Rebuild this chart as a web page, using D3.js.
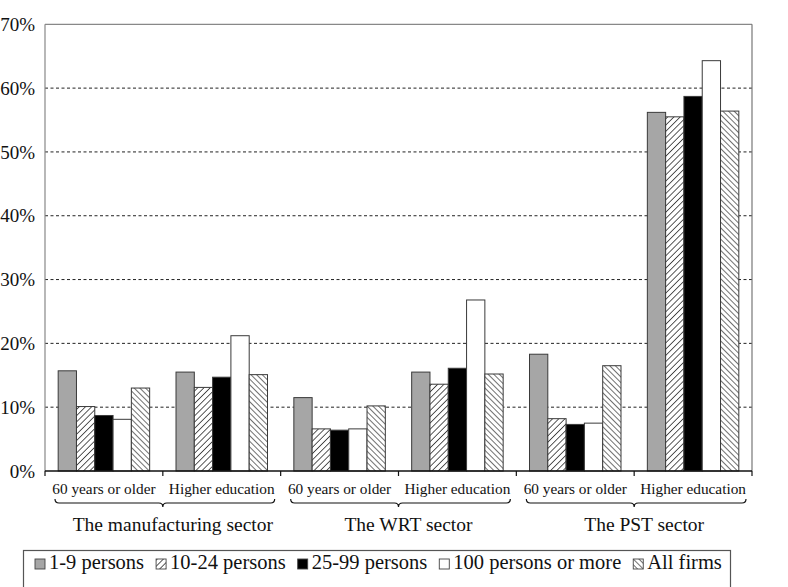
<!DOCTYPE html>
<html>
<head>
<meta charset="utf-8">
<script src="https://cdn.jsdelivr.net/npm/d3@7"></script>
<style>
  html, body { margin: 0; padding: 0; background: #fff; }
  svg { display: block; font-family: "Liberation Serif", "Times New Roman", serif; }
</style>
</head>
<body>
<svg id="chart" width="788" height="587"></svg>
<script>
// ---- data ----
const sectors = ["The manufacturing sector", "The WRT sector", "The PST sector"];
const categories = ["60 years or older", "Higher education"];
const seriesNames = ["1-9 persons", "10-24 persons", "25-99 persons", "100 persons or more", "All firms"];
// values in %, order: manuf-60+, manuf-HE, WRT-60+, WRT-HE, PST-60+, PST-HE
const s1to9 = [15.7, 15.5, 11.5, 15.5, 18.3, 56.2];
const s10to24 = [10.1, 13.1, 6.6, 13.6, 8.2, 55.5];
const s25to99 = [8.7, 14.7, 6.4, 16.1, 7.3, 58.7];
const s100plus = [8.1, 21.2, 6.6, 26.8, 7.5, 64.3];
const sAll = [13.0, 15.1, 10.2, 15.2, 16.5, 56.4];
const yTicks = [0, 10, 20, 30, 40, 50, 60, 70];

const seriesValues = [s1to9, s10to24, s25to99, s100plus, sAll];
const groups = [];
sectors.forEach((s, i) => categories.forEach((c, j) => groups.push({ sector: s, cat: c, idx: i * 2 + j })));

// ---- layout ----
const svg = d3.select("#chart");
const L = 45, R = 752, T = 24.3, B = 471;

const x0 = d3.scaleBand().domain(groups.map(g => g.idx)).range([L, R]).padding(0);
const x1 = d3.scaleBand().domain(seriesNames).range([0, x0.bandwidth()]).paddingInner(0).paddingOuter(0.72);
const y = d3.scaleLinear().domain([0, 70]).range([B, T]);

// patterns
const defs = svg.append("defs");
function hatch(id, angle, spacing, sw) {
  const p = defs.append("pattern").attr("id", id).attr("patternUnits", "userSpaceOnUse")
    .attr("width", spacing).attr("height", spacing).attr("patternTransform", `rotate(${angle})`);
  p.append("rect").attr("width", spacing).attr("height", spacing).attr("fill", "#fff");
  p.append("line").attr("x1", 0).attr("y1", 0).attr("x2", 0).attr("y2", spacing)
    .attr("stroke", "#111").attr("stroke-width", sw);
}
hatch("fwd", 45, 4.4, 1.4);
hatch("bwd", -45, 4.0, 1.2);

const fills = ["#a6a6a6", "url(#fwd)", "#000000", "#ffffff", "url(#bwd)"];
const color = d3.scaleOrdinal().domain(seriesNames).range(fills);

// gridlines
svg.append("g").selectAll("line").data(yTicks.filter(t => t > 0 && t < 70)).join("line")
  .attr("x1", L).attr("x2", R).attr("y1", d => y(d)).attr("y2", d => y(d))
  .attr("stroke", "#222").attr("stroke-width", 1).attr("stroke-dasharray", "3,2.5");

// frame top / right / left
svg.append("line").attr("x1", L).attr("x2", R).attr("y1", y(70)).attr("y2", y(70)).attr("stroke", "#888").attr("stroke-width", 1.2);
svg.append("line").attr("x1", R).attr("x2", R).attr("y1", y(70)).attr("y2", B).attr("stroke", "#777").attr("stroke-width", 1.2);
svg.append("line").attr("x1", L).attr("x2", L).attr("y1", y(70)).attr("y2", B).attr("stroke", "#888").attr("stroke-width", 1.2);

// y labels
const yAxis = d3.axisLeft(y).tickValues(yTicks).tickFormat(d => d + "%").tickSize(0).tickPadding(10);
const ya = svg.append("g").attr("transform", `translate(${L},0)`).call(yAxis);
ya.select(".domain").remove();
ya.selectAll("text").attr("font-size", 19).attr("fill", "#111").attr("font-family", "Liberation Serif");

// bars
const gBars = svg.append("g");
groups.forEach(g => {
  seriesNames.forEach((s, k) => {
    const v = seriesValues[k][g.idx];
    gBars.append("rect")
      .attr("x", x0(g.idx) + x1(s))
      .attr("y", y(v))
      .attr("width", x1.bandwidth())
      .attr("height", B - y(v))
      .attr("fill", color(s))
      .attr("stroke", "#3a3a3a").attr("stroke-width", 1);
  });
});

// bottom axis
const bx = svg.append("g");
bx.append("line").attr("x1", L).attr("x2", R).attr("y1", B).attr("y2", B).attr("stroke", "#111").attr("stroke-width", 1.3);
const edges = groups.map(g => x0(g.idx)).concat([R]);
bx.selectAll("line.tick").data(edges).join("line").attr("class", "tick")
  .attr("x1", d => d).attr("x2", d => d).attr("y1", B).attr("y2", B + 5).attr("stroke", "#111").attr("stroke-width", 1.2);

// category labels
svg.append("g").selectAll("text").data(groups).join("text")
  .attr("x", d => x0(d.idx) + x0.bandwidth() / 2).attr("y", 494)
  .attr("text-anchor", "middle").attr("font-size", 15.3).attr("fill", "#111")
  .text(d => d.cat);

// brackets + sector labels
sectors.forEach((s, i) => {
  const a = x0(i * 2), b = x0(i * 2 + 1) + x0.bandwidth();
  const xs = a + 10, xe = b - 6, mid = (a + b) / 2, yb = 503;
  const p = d3.path();
  p.moveTo(xs, yb - 4);
  p.quadraticCurveTo(xs, yb, xs + 4, yb);
  p.lineTo(mid - 4, yb);
  p.quadraticCurveTo(mid, yb, mid, yb + 4);
  p.quadraticCurveTo(mid, yb, mid + 4, yb);
  p.lineTo(xe - 4, yb);
  p.quadraticCurveTo(xe, yb, xe, yb - 4);
  svg.append("path").attr("d", p.toString()).attr("fill", "none").attr("stroke", "#111").attr("stroke-width", 1.2);
  svg.append("text").attr("x", mid + 10).attr("y", 531).attr("text-anchor", "middle")
    .attr("font-size", 19.5).attr("fill", "#111").text(s);
});

// legend
const lg = svg.append("g");
lg.append("rect").attr("x", 23.5).attr("y", 550.5).attr("width", 707).attr("height", 60)
  .attr("fill", "#fff").attr("stroke", "#555").attr("stroke-width", 1.2);
let lx = 35;
seriesNames.forEach((s, k) => {
  lg.append("rect").attr("x", lx).attr("y", 559).attr("width", 10).attr("height", 10)
    .attr("fill", color(s)).attr("stroke", "#444").attr("stroke-width", 0.9);
  const t = lg.append("text").attr("x", lx + 14).attr("y", 569).attr("font-size", 20.5).attr("fill", "#111").text(s);
  lx += 14 + t.node().getComputedTextLength() + 12;
});
</script>
</body>
</html>
